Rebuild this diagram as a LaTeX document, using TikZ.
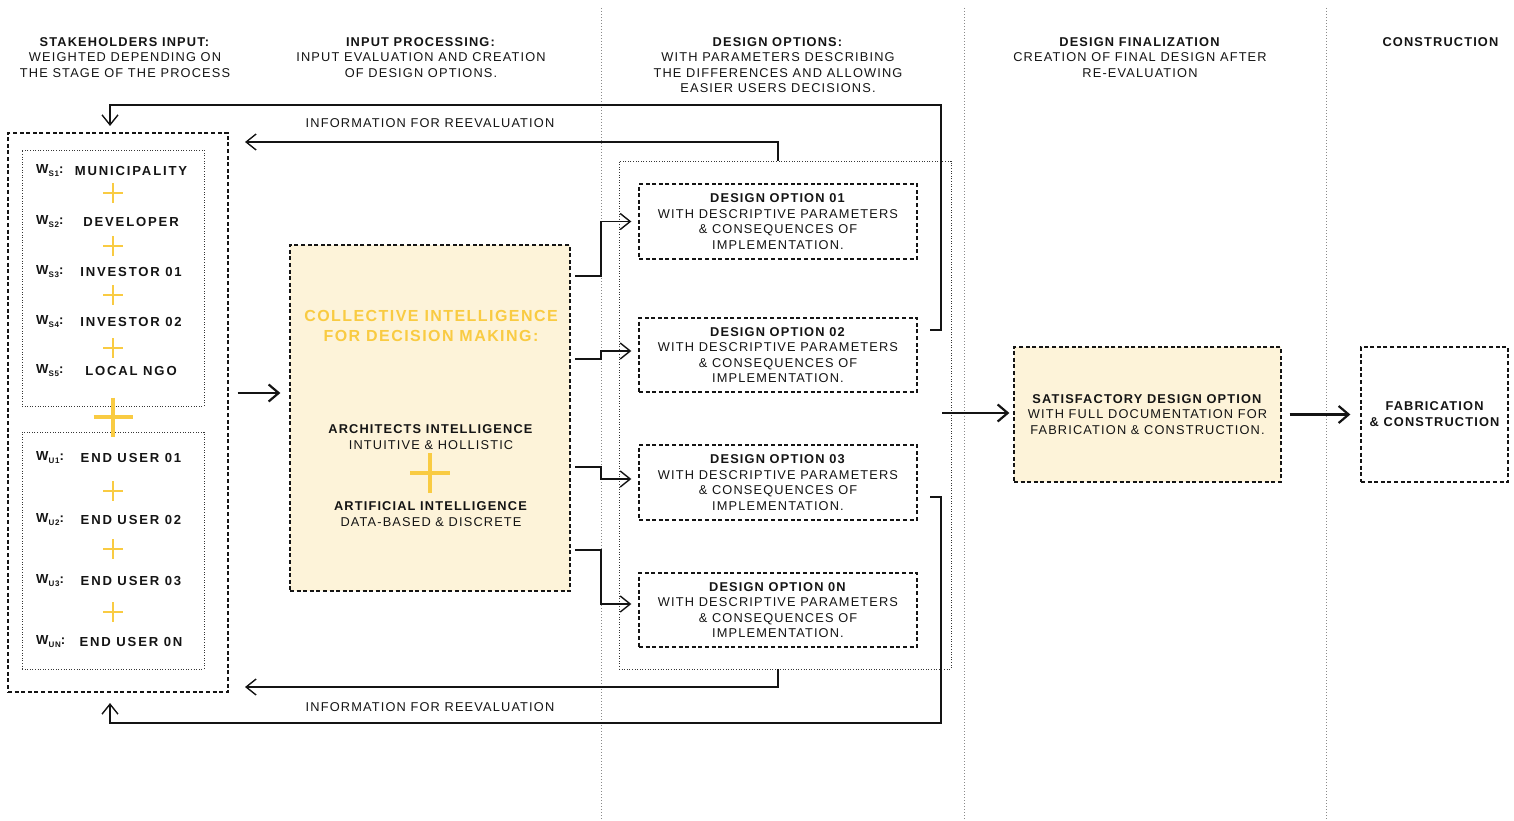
\documentclass[tikz,border=0pt]{standalone}
\usepackage{fontspec}
\setmainfont[LetterSpace=9]{Liberation Sans}
\usetikzlibrary{arrows.meta}
\definecolor{ink}{HTML}{141414}
\definecolor{gold}{HTML}{F9CB42}
\definecolor{cream}{HTML}{FDF3D9}
\definecolor{sepgray}{HTML}{8A8A8A}
\newcommand{\wlab}[1]{\textbf{W\raisebox{-3pt}{\fontsize{8}{8}\selectfont #1}:}}
\tikzset{
  txt/.style={font=\fontsize{12.8}{15.4}\selectfont, text=ink, align=center, inner sep=0pt},
  holder/.style={font=\fontsize{13.1}{15}\selectfont\bfseries\addfontfeature{LetterSpace=14}, text=ink, inner sep=0pt},
  wtag/.style={font=\fontsize{13.1}{15}\selectfont, text=ink, inner sep=0pt, anchor=west},
  dashbox/.style={draw=ink, line width=1.3pt, dash pattern=on 4pt off 2.6pt},
  dotbox/.style={draw=ink!85, line width=0.9pt, dash pattern=on 1pt off 1.6pt},
  sep/.style={draw=sepgray, line width=1pt, dash pattern=on 1pt off 2pt},
  conn/.style={draw=ink, line width=1.4pt, -{Straight Barb[length=10pt,width=16pt]}},
  mainarrow/.style={draw=ink, line width=2.2pt, -{Straight Barb[length=10pt,width=17pt]}},
  pics/plus/.style args={#1/#2}{code={\draw[gold, line width=#2] (-#1,0) -- (#1,0) (0,-#1) -- (0,#1);}}
}
\begin{document}
\begin{tikzpicture}[x=1pt, y=-1pt]
\useasboundingbox (0,0) rectangle (1514,821);

% column separators
\draw[sep] (601,8) -- (601,821);
\draw[sep] (964,8) -- (964,821);
\draw[sep] (1326,8) -- (1326,821);

% column headings
\node[txt] (h1) at (125,57.5) {\textbf{STAKEHOLDERS INPUT:}\\WEIGHTED DEPENDING ON\\THE STAGE OF THE PROCESS};
\node[txt] (h2) at (421,57.5) {\textbf{INPUT PROCESSING:}\\INPUT EVALUATION AND CREATION\\OF DESIGN OPTIONS.};
\node[txt] (h3) at (778,65) {\textbf{DESIGN OPTIONS:}\\WITH PARAMETERS DESCRIBING\\THE DIFFERENCES AND ALLOWING\\EASIER USERS DECISIONS.};
\node[txt] (h4) at (1140,57.5) {\textbf{DESIGN FINALIZATION}\\CREATION OF FINAL DESIGN AFTER\\RE-EVALUATION};
\node[txt] (h5) at (1441,42) {\textbf{CONSTRUCTION}};

% stakeholders
\node[dashbox, minimum width=220, minimum height=559] (stake) at (118,412.5) {};
\node[dotbox, minimum width=182, minimum height=256] (stakeS) at (113,278) {};
\node[dotbox, minimum width=182, minimum height=237] (stakeU) at (113,550.5) {};

\node[wtag] (ws1) at (36,171) {\wlab{S1}};
\node[holder] (ns1) at (131,171) {MUNICIPALITY};
\node[wtag] (ws2) at (36,222) {\wlab{S2}};
\node[holder] (ns2) at (131,222) {DEVELOPER};
\node[wtag] (ws3) at (36,272) {\wlab{S3}};
\node[holder] (ns3) at (131,272) {INVESTOR 01};
\node[wtag] (ws4) at (36,322) {\wlab{S4}};
\node[holder] (ns4) at (131,322) {INVESTOR 02};
\node[wtag] (ws5) at (36,371) {\wlab{S5}};
\node[holder] (ns5) at (131,371) {LOCAL NGO};

\node[wtag] (wu1) at (36,458) {\wlab{U1}};
\node[holder] (nu1) at (131,458) {END USER 01};
\node[wtag] (wu2) at (36,520) {\wlab{U2}};
\node[holder] (nu2) at (131,520) {END USER 02};
\node[wtag] (wu3) at (36,581) {\wlab{U3}};
\node[holder] (nu3) at (131,581) {END USER 03};
\node[wtag] (wun) at (36,642) {\wlab{UN}};
\node[holder] (nun) at (131,642) {END USER 0N};

\pic at (113,193) {plus={10/2.5pt}};
\pic at (113,246) {plus={10/2.5pt}};
\pic at (113,295) {plus={10/2.5pt}};
\pic at (113,348) {plus={10/2.5pt}};
\pic at (113,417) {plus={19.5/4.5pt}};
\pic at (113,491) {plus={10/2.5pt}};
\pic at (113,549) {plus={10/2.5pt}};
\pic at (113,612) {plus={10/2.5pt}};

% collective intelligence
\node[dashbox, fill=cream, minimum width=280, minimum height=346] (ci) at (430,418) {};
\node[txt, font=\fontsize{16}{20}\selectfont\bfseries, text=gold] (ciT) at (431,326) {COLLECTIVE INTELLIGENCE\\FOR DECISION MAKING:};
\node[txt] (ciA) at (431,437) {\textbf{ARCHITECTS INTELLIGENCE}\\INTUITIVE \& HOLLISTIC};
\pic at (430,473) {plus={20/4.5pt}};
\node[txt] (ciB) at (431,514) {\textbf{ARTIFICIAL INTELLIGENCE}\\DATA-BASED \& DISCRETE};

% design options
\node[dotbox, minimum width=332, minimum height=508] (opts) at (785,415) {};
\node[dashbox, txt, minimum width=278, minimum height=75] (opt1) at (778,221.5) {\textbf{DESIGN OPTION 01}\\WITH DESCRIPTIVE PARAMETERS\\\& CONSEQUENCES OF\\IMPLEMENTATION.};
\node[dashbox, txt, minimum width=278, minimum height=74] (opt2) at (778,355) {\textbf{DESIGN OPTION 02}\\WITH DESCRIPTIVE PARAMETERS\\\& CONSEQUENCES OF\\IMPLEMENTATION.};
\node[dashbox, txt, minimum width=278, minimum height=75] (opt3) at (778,482.5) {\textbf{DESIGN OPTION 03}\\WITH DESCRIPTIVE PARAMETERS\\\& CONSEQUENCES OF\\IMPLEMENTATION.};
\node[dashbox, txt, minimum width=278, minimum height=74] (optn) at (778,610) {\textbf{DESIGN OPTION 0N}\\WITH DESCRIPTIVE PARAMETERS\\\& CONSEQUENCES OF\\IMPLEMENTATION.};

% final design and construction
\node[dashbox, fill=cream, txt, minimum width=267, minimum height=135] (sat) at (1147.5,414.5) {\textbf{SATISFACTORY DESIGN OPTION}\\WITH FULL DOCUMENTATION FOR\\FABRICATION \& CONSTRUCTION.};
\node[dashbox, txt, minimum width=147, minimum height=135, font=\fontsize{12.8}{16}\selectfont\bfseries] (con) at (1434.5,414.5) {FABRICATION\\\& CONSTRUCTION};

% feedback labels
\node[txt] (fbl1) at (430,123) {INFORMATION FOR REEVALUATION};
\node[txt] (fbl2) at (430,707) {INFORMATION FOR REEVALUATION};

% helper coordinates
\coordinate (y393) at (0,393);
\coordinate (c1) at (575,276);
\coordinate (c2) at (575,359);
\coordinate (c3) at (575,467);
\coordinate (c4) at (575,550);
\coordinate (fbIn1) at (245,142);
\coordinate (fbIn2) at (245,687);
\coordinate (fbA) at (930,330);
\coordinate (fbB) at (930,497);
\coordinate (fbAend) at (110,126);
\coordinate (fbBend) at (110,703);
\coordinate (mainStart) at (942,413);

% stakeholders to processing
\draw[mainarrow, shorten <=9pt, shorten >=9pt] (stake.east |- y393) -- (ci.west |- y393);

% processing to design options
\draw[conn, shorten >=7pt] (c1) -- (601,276) |- (opt1.west);
\draw[conn, shorten >=7pt] (c2) -- (601,359) |- ([yshift=4pt]opt2.west);
\draw[conn, shorten >=7pt] (c3) -- (601,467) |- ([yshift=3.5pt]opt3.west);
\draw[conn, shorten >=7pt] (c4) -- (601,550) |- ([yshift=6pt]optn.west);

% feedback loops
\draw[conn] (opts.north -| opt1.north) |- (fbIn1);
\draw[conn] (opts.south -| optn.south) |- (fbIn2);
\draw[conn] (fbA) -- (941,330) |- (110,105) -- (fbAend);
\draw[conn] (fbB) -- (941,497) |- (110,723) -- (fbBend);

% towards construction
\draw[mainarrow, shorten >=4pt] (mainStart) -- (sat.west |- mainStart);
\draw[mainarrow, shorten <=8pt, shorten >=10pt] (sat.east) -- (con.west);
\end{tikzpicture}
\end{document}
